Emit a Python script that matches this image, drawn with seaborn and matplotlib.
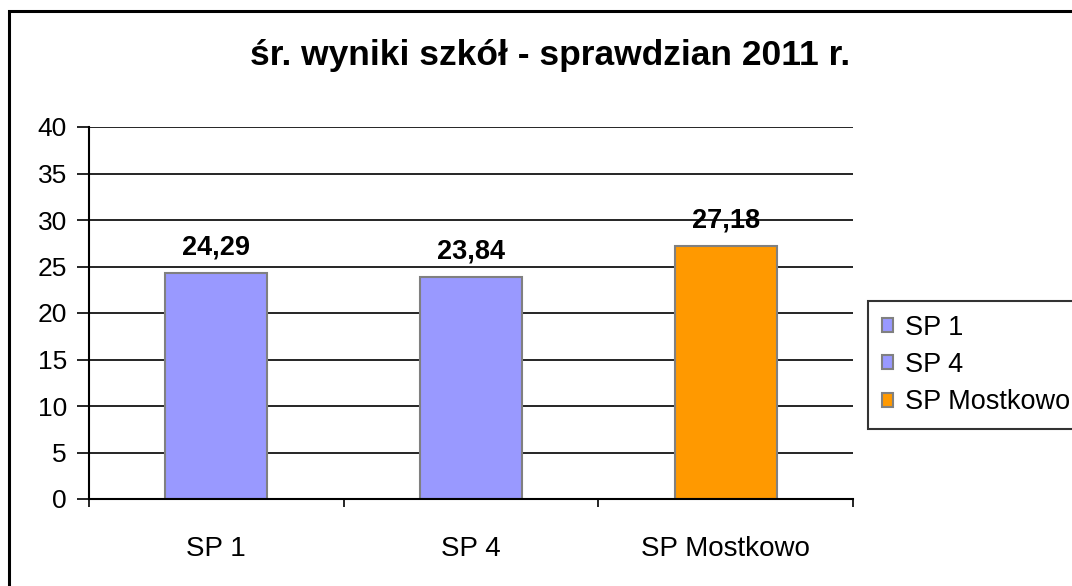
import matplotlib
matplotlib.use("Agg")
import matplotlib.pyplot as plt
import seaborn as sns
from matplotlib.patches import Rectangle

# data
schools = ["SP 1", "SP 4", "SP Mostkowo"]
scores = [24.29, 23.84, 27.18]
colors = ["#9999FF", "#9999FF", "#FF9900"]
y_ticks = [0, 5, 10, 15, 20, 25, 30, 35, 40]

sns.set_theme(style="white")
plt.rcParams["font.family"] = ["Liberation Sans", "DejaVu Sans"]
plt.rcParams["text.color"] = "black"
plt.rcParams["xtick.color"] = "black"
plt.rcParams["ytick.color"] = "black"

W, H = 1072, 586
fig = plt.figure(figsize=(W / 100, H / 100), dpi=100)
ax = fig.add_axes([89 / W, 1 - 499 / H, (853 - 89) / W, (499 - 127) / H])

sns.barplot(x=schools, y=scores, hue=schools, palette=colors, width=0.4,
            edgecolor="#808080", linewidth=1.5, saturation=1, legend=True, ax=ax)

# value labels with decimal comma
for cont, v in zip(ax.containers, scores):
    ax.bar_label(cont, labels=[f"{v:.2f}".replace(".", ",")], padding=9,
                 fontsize=19.5, fontweight="bold", color="black")

ax.set_ylim(0, 40)
ax.set_xlim(-0.5, 2.5)
ax.set_yticks(y_ticks)
ax.yaxis.grid(True, color="black", linewidth=1.2)
ax.set_axisbelow(True)
ax.tick_params(axis="y", length=9, width=1.2, color="black", labelsize=19, pad=7, left=True)
ax.set_xticks([-0.5, 0.5, 1.5, 2.5], minor=True)
ax.tick_params(axis="x", which="major", length=0, labelsize=20, pad=27)
ax.tick_params(axis="x", which="minor", length=6, width=1.2, color="black", bottom=True)
for s in ["top", "right"]:
    ax.spines[s].set_visible(False)
for s in ["left", "bottom"]:
    ax.spines[s].set_color("black")
    ax.spines[s].set_linewidth(1.5)

fig.text(550 / W, 1 - 56 / H, "śr. wyniki szkół - sprawdzian 2011 r.", fontsize=25.5,
         fontweight="bold", ha="center", va="center")

handles = [Rectangle((0, 0), 1, 1, facecolor=c, edgecolor="#808080", linewidth=1.5) for c in colors]
leg = ax.legend(handles, schools, loc="upper left", bbox_to_anchor=(868 / W, 1 - 301 / H),
                bbox_transform=fig.transFigure, fontsize=19.5, frameon=True, fancybox=False,
                handlelength=0.42, handleheight=0.42, handletextpad=0.45, labelspacing=0.42,
                borderpad=0.5, borderaxespad=0)
leg.get_frame().set_edgecolor("black")
leg.get_frame().set_linewidth(1.5)

# outer chart frame
fig.patches.append(Rectangle((9 / W, -0.1), 1.2, 1 - 11 / H + 0.1, transform=fig.transFigure,
                             fill=False, edgecolor="black", linewidth=2.2))

fig.savefig("out.png", dpi=100)
